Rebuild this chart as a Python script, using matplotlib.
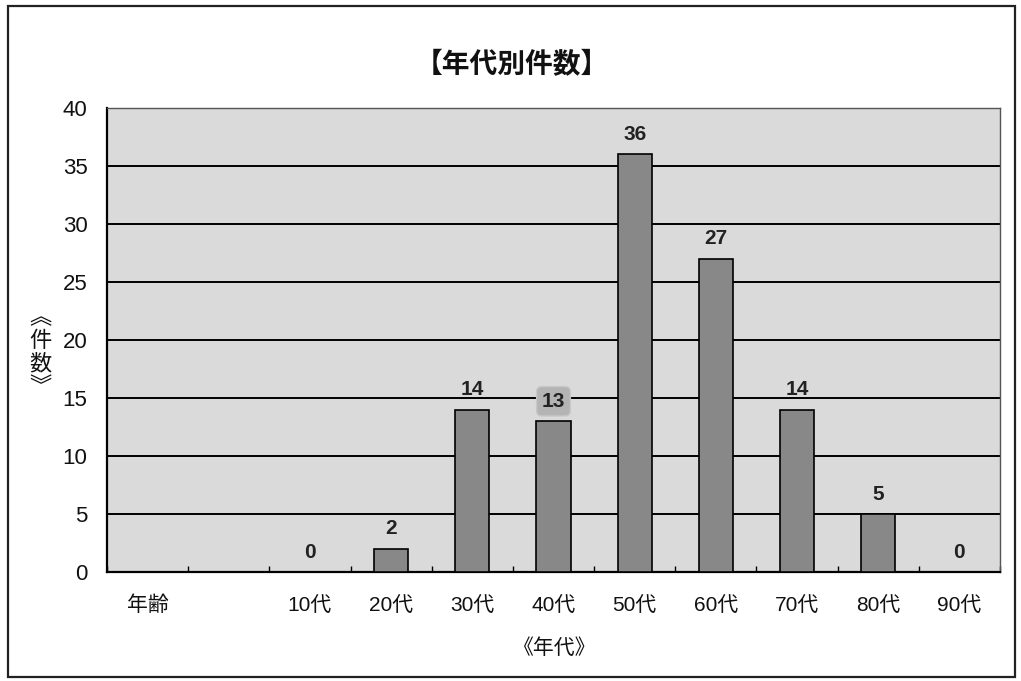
import numpy as np
import matplotlib.pyplot as plt
from matplotlib.patches import Rectangle

plt.rcParams['font.family'] = ['Liberation Sans', 'Noto Sans CJK JP', 'DejaVu Sans']
CJK = ['Noto Sans CJK JP', 'DejaVu Sans']

# 年代別の件数（先頭の「年齢」と空欄は値なし）
categories = ['年齢', '', '10代', '20代', '30代', '40代', '50代',
              '60代', '70代', '80代', '90代']
counts = [np.nan, np.nan, 0, 2, 14, 13, 36, 27, 14, 5, 0]
y_ticks = [0, 5, 10, 15, 20, 25, 30, 35, 40]

W, H = 1021, 681
fig = plt.figure(figsize=(W / 100, H / 100), dpi=100)
ax = fig.add_axes([107 / W, 1 - 572 / H, (1000 - 107) / W, (572 - 108) / H])
ax.set_facecolor('#dadada')

x = np.arange(len(categories))
vals = np.array(counts, dtype=float)
ax.bar(x, vals, width=0.42, color='#888888', edgecolor='black',
       linewidth=1.2, zorder=3)

# 値ラベル
for xi, v in zip(x, vals):
    if np.isnan(v):
        continue
    kw = {}
    if v == 13:
        kw['bbox'] = dict(boxstyle='round,pad=0.25', fc='#b4b4b4',
                          ec='#c8c8c8', lw=1)
    ax.text(xi, v + 0.9, f'{int(v)}', ha='center', va='bottom',
            fontsize=15, fontweight='bold', color='#222222',
            zorder=5, **kw)

ax.set_xlim(-0.5, len(categories) - 0.5)
ax.set_ylim(0, 40)
ax.set_yticks(y_ticks)
ax.yaxis.grid(True, color='black', linewidth=1.4, zorder=1)
ax.set_axisbelow(True)
ax.tick_params(axis='y', length=0, pad=14, labelsize=16, labelcolor='#111111')

ax.set_xticks(x)
ax.set_xticklabels(categories)
ax.tick_params(axis='x', which='major', length=0, pad=17, labelsize=15,
               labelcolor='#111111')
ax.set_xticks(np.arange(len(categories) + 1) - 0.5, minor=True)
ax.tick_params(axis='x', which='minor', direction='in', length=4,
               width=1, color='black')

for side in ['left', 'bottom']:
    ax.spines[side].set_linewidth(1.6)
    ax.spines[side].set_color('black')
for side in ['top', 'right']:
    ax.spines[side].set_linewidth(1.0)
    ax.spines[side].set_color('#555555')

fig.text(512 / W, 1 - 65 / H, '【年代別件数】', ha='center', va='center',
         fontsize=20, fontweight='bold', color='#111111', family=CJK)
fig.text(555 / W, 1 - 648 / H, '《年代》', ha='center', va='center',
         fontsize=15, color='#111111', family=CJK)
fig.text(40 / W, 1 - 352 / H, '︽\n件\n数\n︾', ha='center', va='center',
         fontsize=16, linespacing=1.0, color='#111111', family=CJK)

# 外枠
fig.patches.append(Rectangle((8 / W, 1 - 677 / H), (1015 - 8) / W,
                             (677 - 6) / H, transform=fig.transFigure,
                             fill=False, edgecolor='#222222', linewidth=1.6))

fig.savefig('out.png', dpi=100)
